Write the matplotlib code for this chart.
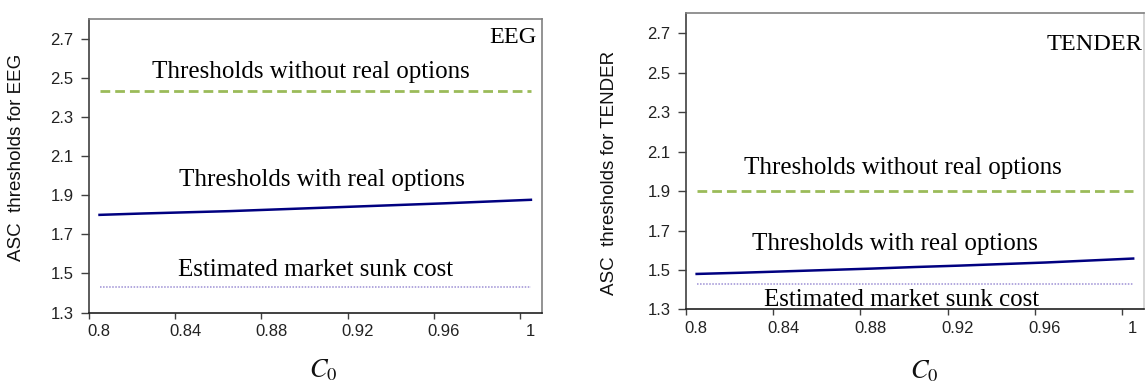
import matplotlib
matplotlib.use("Agg")
import matplotlib.pyplot as plt
import matplotlib.transforms as mtransforms

# data
c0 = [0.805, 0.825, 0.845, 0.865, 0.885, 0.905, 0.925, 0.945, 0.965, 0.985, 1.005]

eeg_with_ro = [1.799, 1.806, 1.812, 1.818, 1.826, 1.834, 1.842, 1.850, 1.858, 1.867, 1.876]
eeg_without_ro = [2.432] * len(c0)
eeg_sunk = [1.431] * len(c0)

tender_with_ro = [1.480, 1.486, 1.493, 1.500, 1.507, 1.515, 1.522, 1.530, 1.538, 1.548, 1.558]
tender_without_ro = [1.902] * len(c0)
tender_sunk = [1.431] * len(c0)

xticks = [0.8, 0.84, 0.88, 0.92, 0.96, 1.0]
xticklabels = ["0.8", "0.84", "0.88", "0.92", "0.96", "1"]
yticks = [1.3, 1.5, 1.7, 1.9, 2.1, 2.3, 2.5, 2.7]

plt.rcParams["mathtext.fontset"] = "stix"
sans = "Liberation Sans"
serif = "Liberation Serif"

fig = plt.figure(figsize=(11.45, 3.87), dpi=100)
ax1 = fig.add_axes([0.0775, 0.1925, 0.3956, 0.7584])
ax2 = fig.add_axes([0.5989, 0.2003, 0.4003, 0.7653])


def style_axes(ax, ylabel, ylab_pos, xlab_pos):
    ax.set_xlim(0.8, 1.01)
    ax.set_ylim(1.3, 2.8)
    ax.set_xticks(xticks)
    ax.set_xticklabels(xticklabels)
    ax.set_yticks(yticks)
    ax.set_yticklabels([f"{v:.1f}" for v in yticks])
    ax.tick_params(axis="x", length=4, width=1, color="#404040", pad=4,
                   labelsize=12, labelcolor="#222222")
    ax.tick_params(axis="y", length=6, width=1, color="#404040", pad=5,
                   labelsize=12, labelcolor="#222222")
    for lab in ax.get_xticklabels() + ax.get_yticklabels():
        lab.set_family(sans)
    # excel style: x labels sit a bit right of their tick
    offset = mtransforms.ScaledTranslation(10 / 100, 0, fig.dpi_scale_trans)
    for lab in ax.get_xticklabels():
        lab.set_transform(lab.get_transform() + offset)
    ax.spines["left"].set_color("#404040")
    ax.spines["bottom"].set_color("#202020")
    ax.spines["top"].set_color("#808080")
    ax.spines["right"].set_color("#808080")
    for s in ax.spines.values():
        s.set_linewidth(1.2)
    ax.set_ylabel(ylabel, family=sans, fontsize=13.5, color="#111111")
    ax.yaxis.set_label_coords(*ylab_pos)
    ax.set_xlabel("$C_0$", fontsize=19, color="#111111")
    ax.xaxis.set_label_coords(*xlab_pos)
    ax.xaxis.label.set_va("center")


def draw_lines(ax, without_ro, with_ro, sunk):
    ax.plot(c0, without_ro, color="#9BBB59", lw=2.0, dashes=(3.5, 1.8))
    ax.plot(c0, with_ro, color="#000080", lw=1.8)
    ax.plot(c0, sunk, color="#9c8fd4", lw=1.1, linestyle=(0, (1, 1)))


draw_lines(ax1, eeg_without_ro, eeg_with_ro, eeg_sunk)
style_axes(ax1, "ASC  thresholds for EEG", (-0.1406, 0.528), (0.518, -0.197))
ax1.text(0.9029, 2.50, "Thresholds without real options", family=serif, fontsize=18, ha="center", va="baseline")
ax1.text(0.9079, 1.944, "Thresholds with real options", family=serif, fontsize=18, ha="center", va="baseline")
ax1.text(0.9052, 1.486, "Estimated market sunk cost", family=serif, fontsize=18, ha="center", va="baseline")
ax1.text(1.0077, 2.679, "EEG", family=serif, fontsize=17.5, ha="right", va="baseline")

draw_lines(ax2, tender_without_ro, tender_with_ro, tender_sunk)
style_axes(ax2, "ASC  thresholds for TENDER", (-0.148, 0.462), (0.52, -0.209))
ax2.spines["right"].set_color("#d0d0d0")
ax2.text(0.8997, 1.987, "Thresholds without real options", family=serif, fontsize=18, ha="center", va="baseline")
ax2.text(0.8958, 1.600, "Thresholds with real options", family=serif, fontsize=18, ha="center", va="baseline")
ax2.text(0.899, 1.317, "Estimated market sunk cost", family=serif, fontsize=18, ha="center", va="baseline")
ax2.text(1.0093, 2.613, "TENDER", family=serif, fontsize=17.5, ha="right", va="baseline")

fig.savefig("out.png", dpi=100)
